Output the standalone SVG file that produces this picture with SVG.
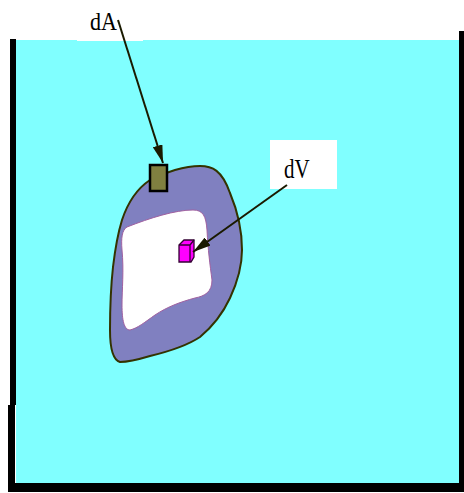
<svg xmlns="http://www.w3.org/2000/svg" width="464" height="493" viewBox="0 0 464 493">
<defs>
<style>
.lbl{font-family:"Liberation Serif","Times New Roman",serif;fill:#000}
.con{stroke:#1a1a00;stroke-width:2;fill:none}
</style>
<marker id="ah" viewBox="0 0 18 10" refX="18" refY="5" markerWidth="9" markerHeight="5" orient="auto" markerUnits="strokeWidth">
<path d="M0,0 L18,5 L0,10 Z" fill="#1a1a00"/>
</marker>
</defs>
<rect x="0" y="0" width="464" height="493" fill="#fff"/>
<g id="tank">
<rect x="16" y="40" width="443" height="443" fill="#80ffff"/>
<rect x="10" y="39" width="6" height="366" fill="#000"/>
<rect x="8" y="405" width="7" height="87" fill="#000"/>
<rect x="8" y="483" width="456" height="9" fill="#000"/>
<rect x="459" y="31" width="5" height="461" fill="#000"/>
</g>
<g id="body">
<path d="M150,180 C165,172 185,166 200,166 C212,166 222,170 230,193 C238,212 242,232 242,250 C242,268 237,283 230,298 C223,313 212,327 200,337 C188,345 175,350 150,356 C140,359 128,362 120,362 C113,360 110,350 110,330 C110,307 111,285 113,267 C115,250 118,233 122,220 C127,205 135,190 150,180 Z" fill="#8080c0" stroke="#333300" stroke-width="2"/>
<path d="M127,227 C150,218 175,210 193,210 C203,210 206,216 207,230 C208,250 210,265 212,280 C212,292 205,296 195,298 C180,302 167,307 155,315 C145,322 138,328 130,330 C124,330 122,320 122,305 C122,290 124,270 122,250 C121,238 122,230 127,227 Z" fill="#fff" stroke="#a060a0" stroke-width="1"/>
</g>
<g id="dA">
<rect x="150" y="165" width="17" height="26" fill="#808040" stroke="#000" stroke-width="2.5"/>
</g>
<g id="dV">
<path d="M179,245 L184,240 L194,240 L194,257 L191,262 L179,262 Z" fill="#ff00ff" stroke="#330033" stroke-width="1.3"/>
<path d="M179,245 L190,245 L194,240 M190,245 L190,262" fill="none" stroke="#330033" stroke-width="1.3"/>
</g>
<g id="label-dA">
<rect x="77" y="0" width="66" height="41" fill="#fff"/>
<text class="lbl" font-size="22" transform="translate(90,30) scale(1,1.13)">dA</text>
</g>
<g id="label-dV">
<rect x="270" y="140" width="67" height="49" fill="#fff"/>
<text class="lbl" font-size="21" transform="translate(284,178) scale(1,1.35)">dV</text>
</g>
<g id="connectors">
<line class="con" x1="118" y1="20" x2="163" y2="163" marker-end="url(#ah)"/>
<line class="con" x1="287" y1="185" x2="193" y2="252" marker-end="url(#ah)"/>
</g>
</svg>
